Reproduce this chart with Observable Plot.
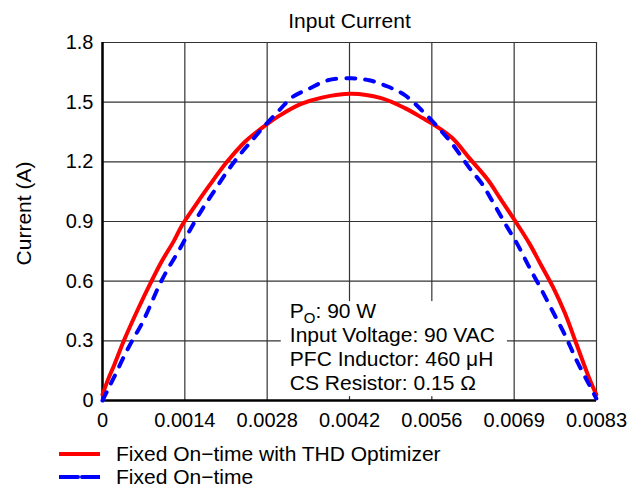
<!DOCTYPE html>
<html><head><meta charset="utf-8">
<script src="https://cdn.jsdelivr.net/npm/d3@7"></script>
<script src="https://cdn.jsdelivr.net/npm/@observablehq/plot@0.6"></script>
<style>
body{margin:0;background:#fff;font-family:"Liberation Sans",Arial,sans-serif;}
#wrap{position:relative;width:639px;height:487px;overflow:hidden;}
#legend{position:absolute;left:59px;top:442px;font-size:21px;color:#000;line-height:23px;}
.row{display:flex;align-items:center;height:23px;white-space:nowrap;}
.row svg{margin-right:16px;display:block;}
</style></head>
<body><div id="wrap"><div id="chart"></div><div id="legend"></div></div>
<script>
// ---- data ----
const title = "Input Current";
const yLabel = "Current (A)";
const period = 1 / 120; // end of the x axis (s)
const xTickValues = [0, 1, 2, 3, 4, 5, 6].map(k => k * period / 6);
const xTickLabels = ["0", "0.0014", "0.0028", "0.0042", "0.0056", "0.0069", "0.0083"];
const yTickValues = [0, 0.3, 0.6, 0.9, 1.2, 1.5, 1.8];
const yTickLabels = ["0", "0.3", "0.6", "0.9", "1.2", "1.5", "1.8"];

const seriesNames = ["Fixed On\u2212time with THD Optimizer", "Fixed On\u2212time"];

const redTime = [0, 0.0001, 0.0002, 0.00036, 0.0006, 0.00081, 0.001, 0.0012, 0.00134, 0.0016, 0.0018, 0.0021, 0.0024, 0.0026, 0.0028, 0.003, 0.00334, 0.0037, 0.0042, 0.0047, 0.0051, 0.0054, 0.0056, 0.0059, 0.0062, 0.0065, 0.0067, 0.007, 0.0072, 0.0074, 0.0076, 0.0078, 0.008, 0.0082, 0.00833];
const redCurrent = [0.03, 0.11, 0.18, 0.30, 0.46, 0.59, 0.70, 0.80, 0.88, 0.995, 1.08, 1.20, 1.30, 1.35, 1.395, 1.435, 1.49, 1.523, 1.542, 1.52, 1.47, 1.42, 1.385, 1.32, 1.215, 1.11, 1.02, 0.885, 0.79, 0.68, 0.57, 0.44, 0.28, 0.12, 0.03];

const blueTime = [0, 0.0001, 0.0002, 0.00036, 0.0005, 0.00067, 0.00081, 0.00095, 0.0011, 0.0013, 0.0015, 0.0017, 0.0019, 0.0021, 0.0023, 0.0025, 0.0027, 0.003, 0.0032, 0.0035, 0.0038, 0.0042, 0.0045, 0.0048, 0.0051, 0.0054, 0.0057, 0.0059, 0.0062, 0.0064, 0.0066, 0.0068, 0.007, 0.0072, 0.0074, 0.0076, 0.0078, 0.008, 0.0082, 0.00833];
const blueCurrent = [0, 0.06, 0.12, 0.22, 0.30, 0.39, 0.48, 0.575, 0.66, 0.76, 0.87, 0.97, 1.06, 1.15, 1.23, 1.30, 1.37, 1.465, 1.525, 1.57, 1.61, 1.62, 1.61, 1.58, 1.535, 1.455, 1.36, 1.29, 1.165, 1.09, 0.99, 0.885, 0.785, 0.67, 0.56, 0.445, 0.33, 0.20, 0.085, 0.01];

const noteLines = ["PO: 90 W", "Input Voltage: 90 VAC", "PFC Inductor: 460 \u03BCH", "CS Resistor: 0.15 \u03A9"];
const noteAnchor = [{time: 0.00316, current: 0.5}];

// ---- build ----
const red = redTime.map((t, i) => ({t, v: redCurrent[i]}));
const blue = blueTime.map((t, i) => ({t, v: blueCurrent[i]}));
const gridColor = "#333";

const chart = Plot.plot({
  width: 639,
  height: 487,
  marginTop: 42,
  marginLeft: 102,
  marginRight: 43,
  marginBottom: 87,
  style: {fontFamily: "'Liberation Sans', Arial, sans-serif", fontSize: "20px", color: "#000", background: "#fff"},
  x: {domain: [0, period], ticks: xTickValues, tickFormat: d => xTickLabels[xTickValues.indexOf(d)], tickSize: 0, tickPadding: 12, label: null},
  y: {domain: [0, 1.8], ticks: yTickValues, tickFormat: d => yTickLabels[yTickValues.indexOf(d)], tickSize: 0, tickPadding: 9, label: null},
  marks: [
    Plot.ruleX(xTickValues, {stroke: gridColor, strokeWidth: 1.2}),
    Plot.ruleY(yTickValues, {stroke: gridColor, strokeWidth: 1.2}),
    Plot.text([noteLines.join("\n")], {x: () => noteAnchor[0].time, y: () => noteAnchor[0].current, textAnchor: "start", lineAnchor: "top", lineHeight: 24 / 21, fontSize: 21, fill: "#000"}),
    Plot.ruleX([0], {stroke: "#000", strokeWidth: 2.5}),
    Plot.ruleY([0], {stroke: "#000", strokeWidth: 2.5}),
    Plot.line(red, {x: "t", y: "v", stroke: "#ff0000", strokeWidth: 4, curve: "catmull-rom"}),
    Plot.line(blue, {x: "t", y: "v", stroke: "#0000ff", strokeWidth: 4, strokeDasharray: "9,10", strokeLinecap: "round", curve: "catmull-rom"}),
    Plot.text([title], {frameAnchor: "top", lineAnchor: "middle", dy: -21, fontSize: 21, fill: "#000"}),
    Plot.text([yLabel], {frameAnchor: "left", textAnchor: "middle", lineAnchor: "middle", rotate: -90, dx: -78, dy: -8, fontSize: 21, fill: "#000"})
  ]
});
document.getElementById("chart").appendChild(chart);

// subscript O in "PO" and white background behind the note
const svgNS = "http://www.w3.org/2000/svg";
let noteText = null;
chart.querySelectorAll("text").forEach(t => { if (t.textContent.startsWith(noteLines[0])) noteText = t; });
if (noteText) {
  const first = Array.from(noteText.querySelectorAll("tspan")).find(s => s.textContent === noteLines[0]);
  if (first) {
    first.textContent = "";
    const a = document.createElementNS(svgNS, "tspan"); a.textContent = "P";
    const b = document.createElementNS(svgNS, "tspan"); b.textContent = "O"; b.setAttribute("dy", "5"); b.setAttribute("font-size", "15");
    const c = document.createElementNS(svgNS, "tspan"); c.textContent = noteLines[0].slice(2); c.setAttribute("dy", "-5");
    first.append(a, b, c);
  }
  const bb = noteText.getBBox();
  const rect = document.createElementNS(svgNS, "rect");
  const tr = noteText.getAttribute("transform") || "";
  rect.setAttribute("transform", tr);
  rect.setAttribute("x", bb.x - 9);
  rect.setAttribute("y", bb.y + 2);
  rect.setAttribute("width", bb.width + 21);
  rect.setAttribute("height", bb.height);
  rect.setAttribute("fill", "#fff");
  noteText.parentNode.insertBefore(rect, noteText);
}

// legend
const legend = document.getElementById("legend");
const styles = [{stroke: "#ff0000", dash: null}, {stroke: "#0000ff", dash: "19,4"}];
seriesNames.forEach((name, i) => {
  const row = document.createElement("div");
  row.className = "row";
  const dash = styles[i].dash ? ` stroke-dasharray="${styles[i].dash}"` : "";
  row.innerHTML = `<svg width="41" height="8"><line x1="0" y1="4" x2="41" y2="4" stroke="${styles[i].stroke}" stroke-width="4" stroke-linecap="round"${dash}/></svg><span>${name}</span>`;
  legend.appendChild(row);
});
</script>
</body></html>
